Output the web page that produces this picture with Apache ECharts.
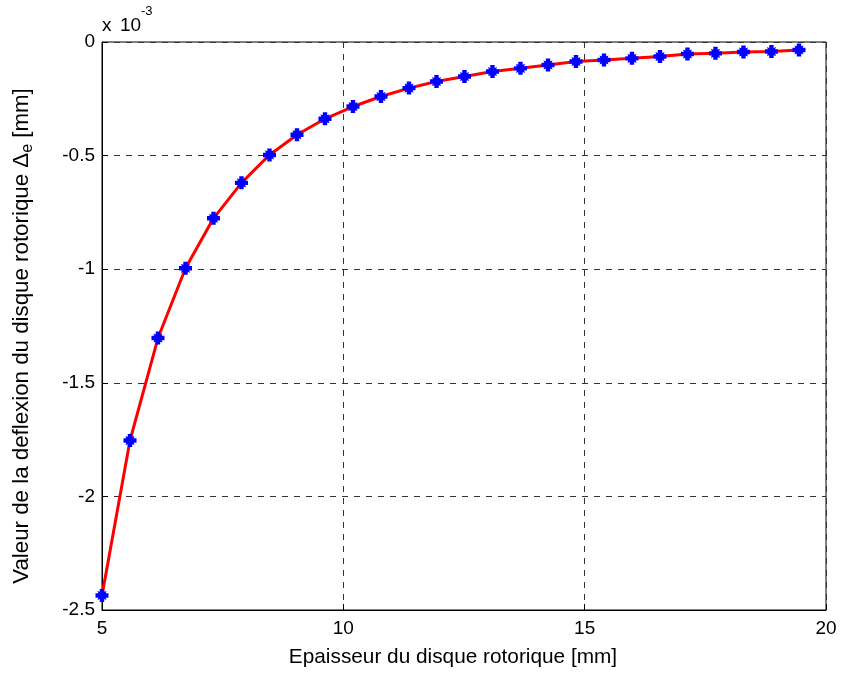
<!DOCTYPE html>
<html><head><meta charset="utf-8">
<script src="https://cdn.jsdelivr.net/npm/echarts@6/dist/echarts.min.js"></script>
<style>html,body{margin:0;padding:0;background:#fff}#c{width:843px;height:673px}</style>
</head><body><div id="c"></div>
<script>
const thickness = [5, 5.58, 6.16, 6.73, 7.31, 7.89, 8.47, 9.04, 9.62, 10.2, 10.78, 11.36, 11.93, 12.51, 13.09, 13.67, 14.24, 14.82, 15.4, 15.98, 16.56, 17.13, 17.71, 18.29, 18.87, 19.44];
const deflection = [-2.436e-3, -1.754e-3, -1.303e-3, -0.996e-3, -0.776e-3, -0.620e-3, -0.497e-3, -0.408e-3, -0.338e-3, -0.284e-3, -0.240e-3, -0.203e-3, -0.174e-3, -0.152e-3, -0.130e-3, -0.116e-3, -0.101e-3, -0.086e-3, -0.079e-3, -0.072e-3, -0.064e-3, -0.053e-3, -0.050e-3, -0.044e-3, -0.042e-3, -0.035e-3];
const xTicks = [5, 10, 15, 20];
const yTicks = [0, -0.5, -1, -1.5, -2, -2.5];

const font = 'Liberation Sans, Arial, Helvetica, sans-serif';
const chart = echarts.init(document.getElementById('c'));
const marker = 'path://M3.3,0H6.7V2.2L8.5,1.5L7.8,3.3H10V6.7H7.8L8.5,8.5L6.7,7.8V10H3.3V7.8L1.5,8.5L2.2,6.7H0V3.3H2.2L1.5,1.5L3.3,2.2Z';
chart.setOption({
  animation: false,
  graphic: [
    { type: 'text', left: 102, top: 16, style: { text: 'x', font: '19px ' + font, fill: '#000' } },
    { type: 'text', left: 120, top: 16, style: { text: '10', font: '19px ' + font, fill: '#000' } },
    { type: 'text', left: 141, top: 5, style: { text: '-3', font: '13px ' + font, fill: '#000' } }
  ],
  grid: { left: 102, top: 42, right: 17, bottom: 61, show: true, borderColor: '#000', borderWidth: 1, backgroundColor: '#fff' },
  xAxis: {
    type: 'value', min: 5, max: 20, interval: 5,
    name: 'Epaisseur du disque rotorique [mm]', nameLocation: 'middle', nameGap: 37,
    nameTextStyle: { fontFamily: font, fontSize: 20.8, color: '#000', padding: [0, 22, 0, 0] },
    axisLine: { show: true, onZero: false, lineStyle: { color: '#000', width: 1 } },
    axisTick: { show: true, inside: true, length: 6, lineStyle: { color: '#000' } },
    axisLabel: { fontFamily: font, fontSize: 19, color: '#000', margin: 9, formatter: v => xTicks.includes(v) ? String(v) : '' },
    splitLine: { show: true, lineStyle: { color: '#333', type: [6, 6], width: 1 } }
  },
  yAxis: {
    type: 'value', min: -0.0025, max: 0, interval: 0.0005,
    name: '{n|Valeur de la deflexion du disque rotorique Δ}{s|e}{n| [mm]}', nameLocation: 'middle', nameGap: 66,
    nameTextStyle: { padding: [0, 20, 0, 0], rich: {
      n: { fontFamily: font, fontSize: 22.3, color: '#000' },
      s: { fontFamily: font, fontSize: 16, color: '#000', padding: [12,0,0,0] }
    } },
    axisLine: { show: true, onZero: false, lineStyle: { color: '#000', width: 1 } },
    axisTick: { show: true, inside: true, length: 6, lineStyle: { color: '#000' } },
    axisLabel: { fontFamily: font, fontSize: 19, color: '#000', margin: 7, formatter: v => {
      const r = Math.round(v * 1e4) / 10; return yTicks.includes(r) ? String(r) : ''; } },
    splitLine: { show: true, lineStyle: { color: '#333', type: [6, 6], width: 1 } }
  },
  series: [{
    type: 'line',
    data: thickness.map((x, i) => [x, deflection[i]]),
    lineStyle: { color: '#ff0000', width: 3 },
    itemStyle: { color: '#0000ff', borderWidth: 0 },
    symbol: marker, symbolSize: 13, showSymbol: true,
    smooth: false
  }]
});
</script></body></html>
